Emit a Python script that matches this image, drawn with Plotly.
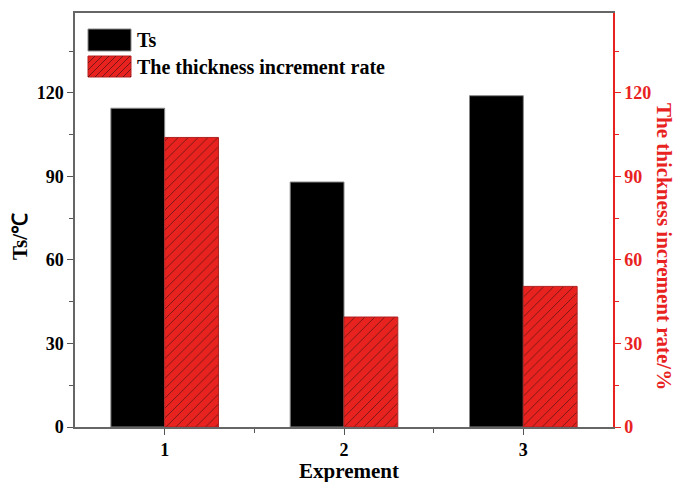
import plotly.graph_objects as go

experiments = [1, 2, 3]
ts_values = [114.5, 88, 119]           # Ts / ℃
rate_values = [104, 39.5, 50.5]        # thickness increment rate / %
tick_vals = [0, 30, 60, 90, 120]
minor_vals = [15, 45, 75, 105, 135]
series_names = ["Ts", "The thickness increment rate"]

FONT = "Liberation Serif"
RED = "#e8231f"
HATCH = "rgba(74,16,16,0.7)"
HATCH_STEP = 7

W, H = 680, 482
ML, MR, MT, MB = 75, 67, 13, 55
PW, PH = W - ML - MR, H - MT - MB


def px(x):
    return (x - ML) / PW


def py(y):
    return (H - MB - y) / PH


fig = go.Figure()
fig.add_trace(go.Bar(
    x=experiments, y=ts_values, name=series_names[0], showlegend=False,
    marker=dict(color="black", line=dict(color="#888888", width=1)),
    offsetgroup="a", yaxis="y",
))
fig.add_trace(go.Bar(
    x=experiments, y=rate_values, name=series_names[1], showlegend=False,
    marker=dict(color=RED, line=dict(color="#b02020", width=1),
                pattern=dict(shape="/", fgcolor="#4a1010", bgcolor=RED,
                             size=HATCH_STEP, solidity=0.14, fgopacity=0.7)),
    offsetgroup="b", yaxis="y2",
))

tickfont_k = dict(size=18, family=FONT, color="black", weight="bold")
tickfont_r = dict(size=18, family=FONT, color=RED, weight="bold")

# hand-drawn legend: larger swatches than the built-in legend allows
shapes = []
x0, x1 = 88, 131
sw = [(29, 51), (56, 77)]
shapes.append(dict(type="rect", xref="paper", yref="paper",
                   x0=px(x0), x1=px(x1), y0=py(sw[0][1]), y1=py(sw[0][0]),
                   fillcolor="black", line=dict(color="#888", width=1)))
shapes.append(dict(type="rect", xref="paper", yref="paper",
                   x0=px(x0), x1=px(x1), y0=py(sw[1][1]), y1=py(sw[1][0]),
                   fillcolor=RED, line=dict(color="#b02020", width=1)))
# "/" hatch lines clipped to the red swatch
top, bot = sw[1]
h = bot - top
path = ""
s = x0 - h
while s < x1:
    ax, ay = s, bot
    bx, by = s + h, top
    if ax < x0:
        ay = bot - (x0 - ax)
        ax = x0
    if bx > x1:
        by = top + (bx - x1)
        bx = x1
    if bx > ax:
        path += f"M{px(ax)},{py(ay)} L{px(bx)},{py(by)} "
    s += HATCH_STEP
shapes.append(dict(type="path", xref="paper", yref="paper", path=path,
                   line=dict(color=HATCH, width=1)))

annotations = [
    dict(text="<b>Ts/℃</b>", x=px(20), y=py(237),
         showarrow=False, textangle=-90, font=dict(size=21, family=FONT)),
    dict(text="<b>The thickness increment rate/%</b>", x=px(664), y=py(246),
         showarrow=False, textangle=90, font=dict(size=21, family=FONT, color=RED)),
    dict(text="<b>Exprement</b>", x=px(349), y=py(471),
         showarrow=False, font=dict(size=21, family=FONT)),
]
for name, (a, b) in zip(series_names, sw):
    annotations.append(dict(text=f"<b>{name}</b>", x=px(135), y=py((a + b) / 2),
                            xanchor="left", showarrow=False,
                            font=dict(size=20, family=FONT)))
for a in annotations:
    a["xref"] = "paper"
    a["yref"] = "paper"
    a.setdefault("xanchor", "center")
    a["yanchor"] = "middle"

fig.update_layout(
    width=W, height=H,
    margin=dict(l=ML, r=MR, t=MT, b=MB),
    paper_bgcolor="white", plot_bgcolor="white",
    barmode="group", bargap=0.4, bargroupgap=0,
    font=dict(family=FONT, size=15, color="black"),
    showlegend=False,
    xaxis=dict(
        range=[0.5, 3.5], tickvals=experiments,
        ticks="outside", ticklen=6, tickcolor="#555", tickwidth=1,
        minor=dict(tickvals=[1.5, 2.5], ticks="outside", ticklen=4, tickcolor="#555"),
        showline=True, linecolor="#666", linewidth=1.5, mirror=True,
        showgrid=False, zeroline=False, tickfont=tickfont_k,
    ),
    yaxis=dict(
        range=[0, 148.7], tickvals=tick_vals,
        ticks="outside", ticklen=6, tickcolor="#555", tickwidth=1,
        minor=dict(tickvals=minor_vals, ticks="outside", ticklen=4, tickcolor="#555"),
        showline=True, linecolor="#666", linewidth=1.5,
        showgrid=False, zeroline=False, tickfont=tickfont_k,
    ),
    yaxis2=dict(
        range=[0, 148.7], tickvals=tick_vals, overlaying="y", side="right",
        ticks="outside", ticklen=6, tickcolor=RED, tickwidth=1,
        minor=dict(tickvals=minor_vals, ticks="outside", ticklen=4, tickcolor=RED),
        showline=True, linecolor=RED, linewidth=1.5,
        showgrid=False, zeroline=False, tickfont=tickfont_r,
    ),
    shapes=shapes,
    annotations=annotations,
)

fig.write_html("out.html")
